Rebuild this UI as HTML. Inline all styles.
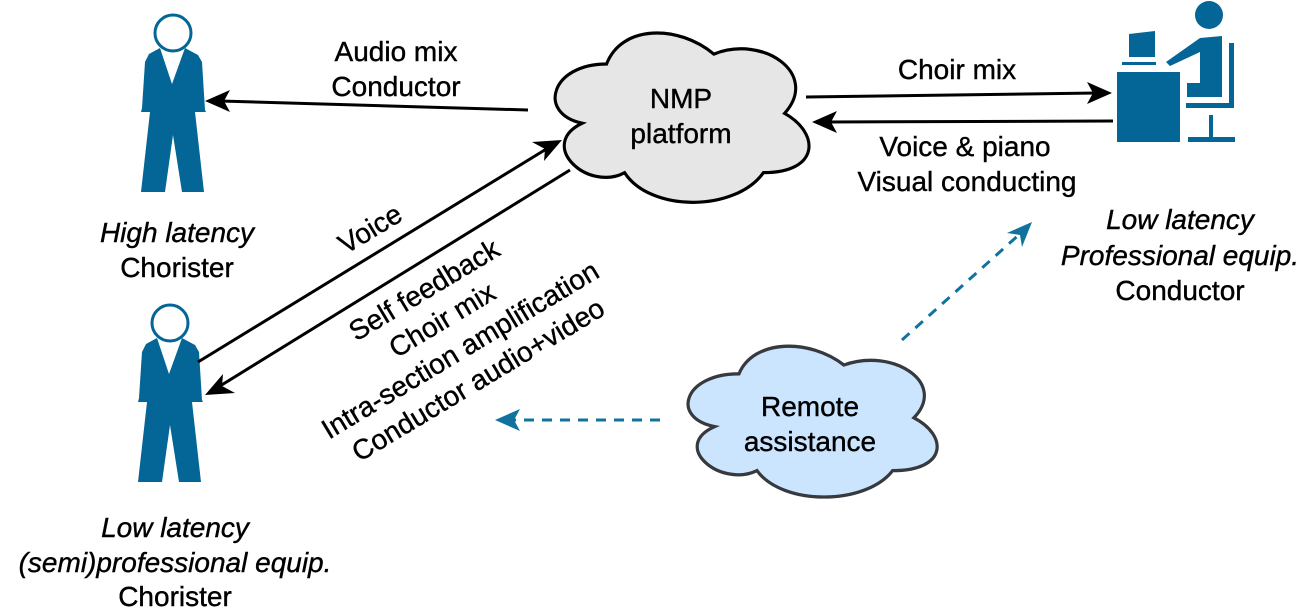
<!DOCTYPE html>
<html><head><meta charset="utf-8"><style>
html,body{margin:0;padding:0;background:#fff;}
svg{display:block;}
text{font-family:"Liberation Sans",sans-serif;font-size:28px;fill:#000;stroke:#000;stroke-width:0.4px;}
.i{font-style:italic;}
</style></head><body>
<svg width="1311" height="608" viewBox="0 0 1311 608" xmlns="http://www.w3.org/2000/svg">
<defs>
<g id="person">
<circle cx="173" cy="33" r="18" fill="#fff" stroke="#036697" stroke-width="3"/>
<path d="M160,48 L172,84 L185,48 L198,55 L202,62 L205,110 L206,112 L195,112 L204,192 L182,192 L173,135 L165,192 L141,192 L150,112 L141,112 L142,108 L145,62 L149,54 Z" fill="#036697"/>
</g>
</defs>
<use href="#person"/>
<use href="#person" transform="translate(-3,290)"/>

<!-- computer user -->
<g fill="#036697">
<circle cx="1209" cy="15" r="14"/>
<polygon points="1129,34 1155,31 1155,57 1129,57"/>
<rect x="1122" y="62" width="34" height="3"/>
<rect x="1117" y="72" width="63" height="70"/>
<polygon points="1166,62 1200,38 1222,36 1222,97 1187,97 1187,83 1200,83 1200,52 1170,66"/>
<rect x="1229" y="43" width="5" height="65"/>
<rect x="1186" y="103" width="48" height="5"/>
<rect x="1209" y="115" width="4" height="25"/>
<rect x="1188" y="137" width="47" height="5"/>
</g>

<!-- clouds -->
<path transform="translate(681,115) scale(1.03,1.08) translate(-681,-115)" d="M 608.75 67.75 C 554.75 67.75 541 113.5 585 122.65 C 541 142.8 590.5 186.7 626.25 168.4 C 651 205 733.5 205 761 168.4 C 816 168.4 816 131.8 781.6 113.5 C 816 76.9 761 40.3 712.9 58.6 C 678.5 31.15 623.5 31.15 608.75 67.75 Z" fill="#e6e6e6" stroke="#000" stroke-width="3"/>
<path transform="translate(810,420) scale(1.06,1.1) translate(-810,-420)" d="M 743 378 C 691 378 678 418 720 426 C 678 444 726 482 760 466 C 784 498 862 498 888 466 C 940 466 940 434 908 418 C 940 386 888 354 842 370 C 810 346 757 346 743 378 Z" fill="#cce5ff" stroke="#36393d" stroke-width="3"/>
<text x="681" y="108" text-anchor="middle">NMP</text>
<text x="681" y="143" text-anchor="middle">platform</text>
<text x="810" y="416" text-anchor="middle">Remote</text>
<text x="810" y="451" text-anchor="middle">assistance</text>

<!-- arrows -->
<g stroke="#000" stroke-width="3" fill="none">
<line x1="528" y1="110" x2="220" y2="101"/>
<line x1="198" y1="362" x2="548" y2="148"/>
<line x1="570" y1="170" x2="220" y2="386"/>
<line x1="806" y1="97" x2="1097" y2="93"/>
<line x1="1113" y1="121" x2="828" y2="122"/>
</g>
<g fill="#000">
<polygon points="205,101 230,90 224,101 230,112"/>
<polygon points="562,140 544,161 545,149 532,142"/>
<polygon points="205,395 223,374 222,386 235,393"/>
<polygon points="1112,93 1087,104 1093,93 1087,82"/>
<polygon points="812,122 837,111 831,122 837,133"/>
</g>
<g stroke="#10739e" stroke-width="3" stroke-dasharray="10,8" fill="none">
<line x1="902" y1="340" x2="1022" y2="232"/>
<line x1="660" y1="420" x2="512" y2="420"/>
</g>
<g fill="#10739e">
<polygon points="1032,222 1022,247 1020,235 1007,233"/>
<polygon points="495,420 520,409 514,420 520,431"/>
</g>

<!-- labels -->
<text x="396" y="61" text-anchor="middle">Audio mix</text>
<text x="396" y="96" text-anchor="middle">Conductor</text>
<text x="957" y="79" text-anchor="middle">Choir mix</text>
<text x="965" y="156" text-anchor="middle">Voice &amp; piano</text>
<text x="967" y="191" text-anchor="middle">Visual conducting</text>
<text x="177" y="242" text-anchor="middle" class="i">High latency</text>
<text x="177" y="277" text-anchor="middle">Chorister</text>
<text x="175" y="537" text-anchor="middle" class="i">Low latency</text>
<text x="175" y="572" text-anchor="middle" class="i">(semi)professional equip.</text>
<text x="175" y="606" text-anchor="middle">Chorister</text>
<text x="1180" y="229" text-anchor="middle" class="i">Low latency</text>
<text x="1180" y="265" text-anchor="middle" class="i">Professional equip.</text>
<text x="1180" y="300" text-anchor="middle">Conductor</text>

<text transform="translate(375,237) rotate(-31)" text-anchor="middle">Voice</text>
<text transform="translate(429,298) rotate(-31)" text-anchor="middle">Self feedback</text>
<text transform="translate(447,328) rotate(-31)" text-anchor="middle">Choir mix</text>
<text transform="translate(465,358) rotate(-31)" text-anchor="middle">Intra-section amplification</text>
<text transform="translate(483,388) rotate(-31)" text-anchor="middle">Conductor audio+video</text>
</svg>
</body></html>
